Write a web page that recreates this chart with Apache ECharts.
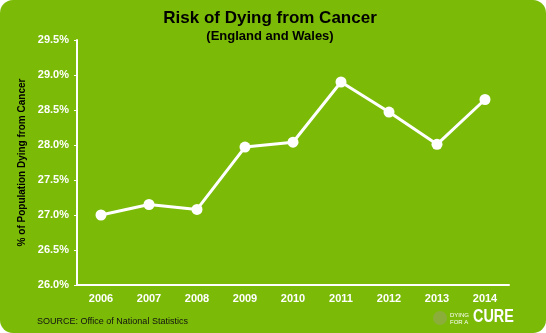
<!DOCTYPE html>
<html>
<head>
<meta charset="utf-8">
<script src="https://cdn.jsdelivr.net/npm/echarts@6/dist/echarts.min.js"></script>
<style>
  html, body { margin: 0; padding: 0; background: #ffffff; }
  #chart { width: 546px; height: 333px; }
</style>
</head>
<body>
<div id="chart"></div>
<script>
// Share of the population dying from cancer, England and Wales
const years = ['2006', '2007', '2008', '2009', '2010', '2011', '2012', '2013', '2014'];
const riskPercent = [27.0, 27.15, 27.08, 27.97, 28.04, 28.9, 28.47, 28.01, 28.65];
const yTicks = [26.0, 26.5, 27.0, 27.5, 28.0, 28.5, 29.0, 29.5];

const GREEN = '#7bbb08';
const chart = echarts.init(document.getElementById('chart'), null, { renderer: 'canvas' });

chart.setOption({
  backgroundColor: '#ffffff',
  animation: false,
  title: {
    text: 'Risk of Dying from Cancer',
    subtext: '(England and Wales)',
    left: 265,
    textAlign: 'center',
    top: 5,
    itemGap: 3,
    textStyle: { fontFamily: 'Liberation Sans, Arial, sans-serif', fontSize: 17, fontWeight: 'bold', color: '#000000' },
    subtextStyle: { fontFamily: 'Liberation Sans, Arial, sans-serif', fontSize: 13, fontWeight: 'bold', color: '#000000' }
  },
  graphic: [
    {
      type: 'rect', z: -10, silent: true,
      shape: { x: 0, y: 0, width: 546, height: 333, r: 13 },
      style: { fill: GREEN }
    },
    {
      type: 'text', left: 37, top: 317,
      style: { text: 'SOURCE: Office of National Statistics', fill: '#111111', font: '9px "Liberation Sans", Arial, sans-serif' }
    },
    {
      type: 'circle', shape: { cx: 440, cy: 318, r: 7 },
      style: { fill: '#8fa94a', opacity: 0.75 }
    },
    {
      type: 'text', x: 450, y: 312,
      style: { text: 'DYING\nFOR A', fill: '#ffffff', font: '6px "Liberation Sans", Arial, sans-serif', lineHeight: 7 }
    },
    {
      type: 'text', x: 473, y: 308, scaleX: 0.8,
      style: { text: 'CURE', fill: '#ffffff', font: 'bold 18px "Liberation Sans", Arial, sans-serif' }
    }
  ],
  grid: { left: 77, right: 37, top: 40, bottom: 48, containLabel: false },
  xAxis: {
    type: 'category',
    data: years,
    boundaryGap: true,
    axisLine: { lineStyle: { color: '#ffffff', width: 2 } },
    axisTick: { inside: true, length: 3, lineStyle: { color: '#ffffff', width: 1 } },
    axisLabel: { color: '#ffffff', fontWeight: 'bold', fontSize: 11, margin: 8, fontFamily: 'Liberation Sans, Arial, sans-serif' },
    splitLine: { show: false }
  },
  yAxis: {
    type: 'value',
    min: yTicks[0],
    max: yTicks[yTicks.length - 1],
    interval: 0.5,
    name: '% of Population Dying from Cancer',
    nameLocation: 'middle',
    nameGap: 43,
    nameTextStyle: { color: '#000000', fontWeight: 'bold', fontSize: 10, fontFamily: 'Liberation Sans, Arial, sans-serif' },
    axisLine: { show: true, lineStyle: { color: '#ffffff', width: 2 } },
    axisTick: { show: true, length: 3, lineStyle: { color: '#ffffff', width: 1 } },
    axisLabel: {
      color: '#ffffff', fontWeight: 'bold', fontSize: 11, margin: 8,
      fontFamily: 'Liberation Sans, Arial, sans-serif',
      formatter: v => v.toFixed(1) + '%'
    },
    splitLine: { show: false }
  },
  series: [{
    type: 'line',
    data: riskPercent,
    symbol: 'circle',
    symbolSize: 11,
    lineStyle: { color: '#ffffff', width: 3 },
    itemStyle: { color: '#ffffff' }
  }]
});
</script>
</body>
</html>
